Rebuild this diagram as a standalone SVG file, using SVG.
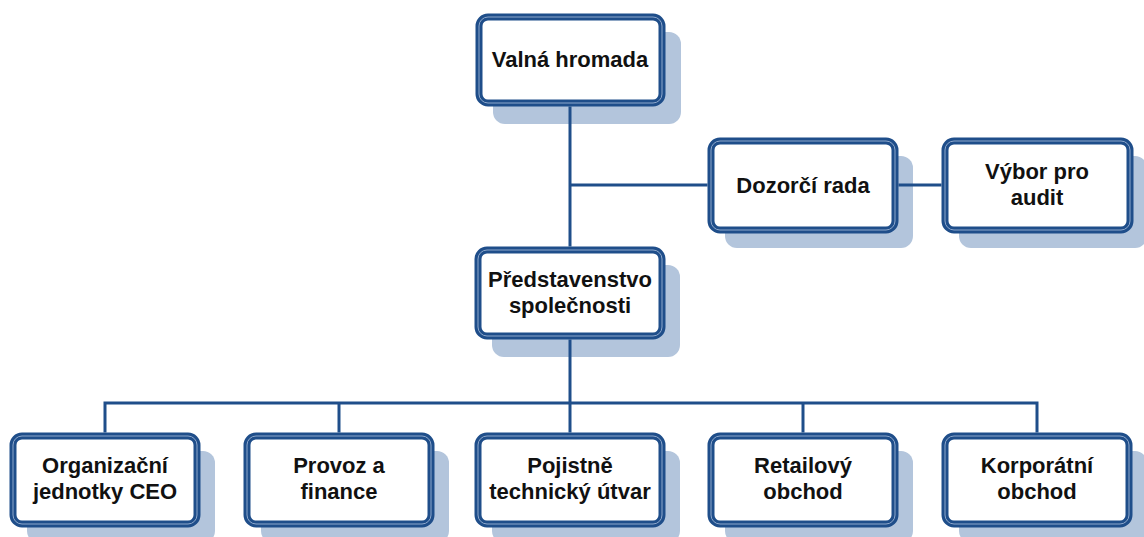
<svg xmlns="http://www.w3.org/2000/svg" width="1144" height="537" viewBox="0 0 1144 537">
<style>
.sh{fill:#b3c5dc;}
.bx{fill:#ffffff;stroke:#1f4e8a;stroke-width:7;}
.in{fill:none;stroke:#8ea8cc;stroke-width:1;}
.t{font-family:"Liberation Sans",Arial,sans-serif;font-weight:bold;font-size:22px;fill:#111111;text-anchor:middle;}
.c{fill:none;stroke:#1f4e8a;stroke-width:3;}
</style>
<rect width="1144" height="537" fill="#ffffff"/>
<g id="valna">
<rect class="sh" x="493" y="32" width="188" height="92" rx="12"/>
<rect class="bx" x="479" y="17" width="183" height="86" rx="9"/>
<rect class="in" x="479" y="17" width="183" height="86" rx="9"/>
<text class="t" x="570" y="67">Valná hromada</text>
</g>
<g id="dozorci">
<rect class="sh" x="725" y="156" width="188" height="92" rx="12"/>
<rect class="bx" x="711" y="141" width="184" height="89" rx="9"/>
<rect class="in" x="711" y="141" width="184" height="89" rx="9"/>
<text class="t" x="803" y="193">Dozorčí rada</text>
</g>
<g id="vybor">
<rect class="sh" x="959" y="156" width="188" height="92" rx="12"/>
<rect class="bx" x="945" y="141" width="185" height="89" rx="9"/>
<rect class="in" x="945" y="141" width="185" height="89" rx="9"/>
<text class="t" x="1037" y="179">Výbor pro</text>
<text class="t" x="1037" y="205">audit</text>
</g>
<g id="predstavenstvo">
<rect class="sh" x="492" y="265" width="188" height="92" rx="12"/>
<rect class="bx" x="478" y="250" width="184" height="86" rx="9"/>
<rect class="in" x="478" y="250" width="184" height="86" rx="9"/>
<text class="t" x="570" y="287">Představenstvo</text>
<text class="t" x="570" y="313">společnosti</text>
</g>
<g id="organizacni">
<rect class="sh" x="27" y="451" width="188" height="92" rx="12"/>
<rect class="bx" x="13" y="436" width="184" height="88" rx="9"/>
<rect class="in" x="13" y="436" width="184" height="88" rx="9"/>
<text class="t" x="105" y="473">Organizační</text>
<text class="t" x="105" y="499">jednotky CEO</text>
</g>
<g id="provoz">
<rect class="sh" x="261" y="451" width="188" height="92" rx="12"/>
<rect class="bx" x="247" y="436" width="184" height="88" rx="9"/>
<rect class="in" x="247" y="436" width="184" height="88" rx="9"/>
<text class="t" x="339" y="473">Provoz a</text>
<text class="t" x="339" y="499">finance</text>
</g>
<g id="pojistne">
<rect class="sh" x="492" y="451" width="188" height="92" rx="12"/>
<rect class="bx" x="478" y="436" width="184" height="88" rx="9"/>
<rect class="in" x="478" y="436" width="184" height="88" rx="9"/>
<text class="t" x="570" y="473">Pojistně</text>
<text class="t" x="570" y="499">technický útvar</text>
</g>
<g id="retail">
<rect class="sh" x="725" y="451" width="188" height="92" rx="12"/>
<rect class="bx" x="711" y="436" width="184" height="88" rx="9"/>
<rect class="in" x="711" y="436" width="184" height="88" rx="9"/>
<text class="t" x="803" y="473">Retailový</text>
<text class="t" x="803" y="499">obchod</text>
</g>
<g id="korporatni">
<rect class="sh" x="959" y="451" width="188" height="92" rx="12"/>
<rect class="bx" x="945" y="436" width="184" height="88" rx="9"/>
<rect class="in" x="945" y="436" width="184" height="88" rx="9"/>
<text class="t" x="1037" y="473">Korporátní</text>
<text class="t" x="1037" y="499">obchod</text>
</g>
<g id="connectors">
<path class="c" d="M570 106.5 V246.5"/>
<path class="c" d="M570 185 H707.5"/>
<path class="c" d="M898.5 185 H941.5"/>
<path class="c" d="M570 339.5 V403"/>
<path class="c" d="M105 432.5 V403 H1037 V432.5"/>
<path class="c" d="M339 403 V432.5"/>
<path class="c" d="M570 403 V432.5"/>
<path class="c" d="M803 403 V432.5"/>
</g>
</svg>
